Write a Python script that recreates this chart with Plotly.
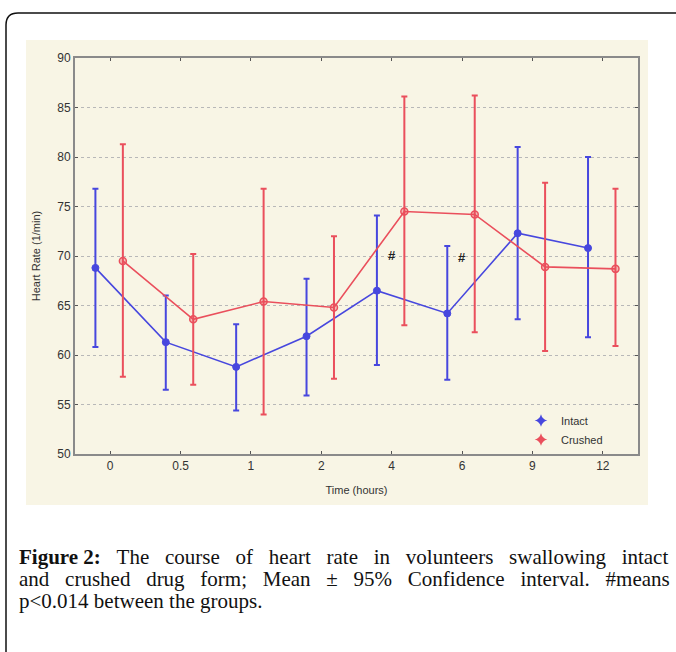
import plotly.graph_objects as go

# ---- data ----
time_labels = ["0", "0.5", "1", "2", "4", "6", "9", "12"]
intact_mean = [68.8, 61.3, 58.8, 61.9, 66.5, 64.2, 72.3, 70.8]
intact_low  = [60.8, 56.5, 54.4, 55.9, 59.0, 57.5, 63.6, 61.8]
intact_high = [76.8, 66.0, 63.1, 67.7, 74.1, 71.0, 81.0, 80.0]
crushed_mean = [69.5, 63.6, 65.4, 64.8, 74.5, 74.2, 68.9, 68.7]
crushed_low  = [57.8, 57.0, 54.0, 57.6, 63.0, 62.3, 60.4, 60.9]
crushed_high = [81.3, 70.2, 76.8, 72.0, 86.1, 86.2, 77.4, 76.8]
sig_labels = ["4", "6"]
sig_y = [70.1, 69.8]

W, H = 676, 652
L, R, T, B = 75, 38, 58, 198
pw, ph = W - L - R, H - T - B

def px(x):
    return (x - L) / pw

def py(y):
    return (H - B - y) / ph

idx = list(range(len(time_labels)))
x_int = [i - 0.21 for i in idx]
x_cru = [i + 0.18 for i in idx]

BLUE = "#4747de"
RED = "#ea4f5c"

fig = go.Figure()
fig.add_trace(go.Scatter(
    x=x_int, y=intact_mean, mode="lines+markers", name="Intact",
    line=dict(color=BLUE, width=1.6),
    marker=dict(color=BLUE, size=7, symbol="circle", line=dict(color=BLUE, width=1)),
    error_y=dict(type="data", symmetric=False,
                 array=[h - m for h, m in zip(intact_high, intact_mean)],
                 arrayminus=[m - l for m, l in zip(intact_mean, intact_low)],
                 color=BLUE, thickness=2, width=3),
    showlegend=False))
fig.add_trace(go.Scatter(
    x=x_cru, y=crushed_mean, mode="lines+markers", name="Crushed",
    line=dict(color=RED, width=1.6),
    marker=dict(color="rgba(234,79,92,0.35)", size=7, symbol="circle", line=dict(color=RED, width=1.5)),
    error_y=dict(type="data", symmetric=False,
                 array=[h - m for h, m in zip(crushed_high, crushed_mean)],
                 arrayminus=[m - l for m, l in zip(crushed_mean, crushed_low)],
                 color=RED, thickness=2, width=3),
    showlegend=False))
# legend-only entries
fig.add_trace(go.Scatter(x=[None], y=[None], mode="markers", name="Intact",
                         marker=dict(color=BLUE, size=9, symbol="star-diamond")))
fig.add_trace(go.Scatter(x=[None], y=[None], mode="markers", name="Crushed",
                         marker=dict(color=RED, size=9, symbol="star-diamond")))

for lab, yv in zip(sig_labels, sig_y):
    fig.add_annotation(x=time_labels.index(lab), y=yv, text="<b>#</b>", showarrow=False,
                       font=dict(family="Liberation Sans, Arial", size=13, color="#222"))

# caption (justified by widening the word gaps)
NB = "\u00a0"
cap_font = dict(family="Liberation Serif, Times New Roman, serif", size=21, color="#111")
gap1 = " " + NB + NB
gap2 = " " + NB + NB
line1 = "<b>Figure" + NB + "2:</b>" + gap1 + gap1.join(
    "The course of heart rate in volunteers swallowing intact".split(" "))
line2 = gap2.join("and crushed drug form; Mean ± 95% Confidence interval. #means".split(" "))
line3 = "p<0.014 between the groups."
for txt, yy in zip([line1, line2, line3], [557, 579, 601]):
    fig.add_annotation(xref="paper", yref="paper", x=px(17), y=py(yy), text=txt,
                       showarrow=False, xanchor="left", yanchor="middle", font=cap_font)

shapes = [
    # beige image background
    dict(type="rect", xref="paper", yref="paper", x0=px(26), x1=px(648), y0=py(505), y1=py(40),
         fillcolor="#f8f5e5", line=dict(width=0), layer="below"),
    # card border (top + left with rounded corner)
    dict(type="path", xref="paper", yref="paper",
         path=f"M {px(700)},{py(13)} L {px(18)},{py(13)} Q {px(6)},{py(13)} {px(6)},{py(25)} L {px(6)},{py(660)}",
         line=dict(color="#111", width=1.5), layer="above"),
]
fig.update_layout(shapes=shapes)

fig.update_layout(
    width=W, height=H, autosize=False,
    margin=dict(l=L, r=R, t=T, b=B, pad=0),
    paper_bgcolor="white", plot_bgcolor="white",
    font=dict(family="Liberation Sans, Arial", size=12, color="#333"),
    legend=dict(x=px(521), y=py(406), xanchor="left", yanchor="top",
                bgcolor="rgba(0,0,0,0)", font=dict(size=11, color="#333"),
                itemwidth=30, tracegroupgap=0),
    xaxis=dict(range=[-0.5, 7.5], tickmode="array", tickvals=idx, ticktext=time_labels,
               showgrid=False, zeroline=False, showline=True, linecolor="#8a8a8a", linewidth=2,
               mirror="ticks", ticks="inside", ticklen=3, tickcolor="#555",
               tickfont=dict(size=12, color="#333"),
               title=dict(text="Time (hours)", standoff=14, font=dict(size=11, color="#333"))),
    yaxis=dict(range=[50, 90], tickmode="linear", tick0=50, dtick=5,
               showgrid=True, gridcolor="#b8b8b8", griddash="dot", gridwidth=1,
               zeroline=False, showline=True, linecolor="#8a8a8a", linewidth=2,
               mirror="ticks", ticks="inside", ticklen=3, tickcolor="#555",
               tickfont=dict(size=12, color="#333"),
               title=dict(text="Heart Rate (1/min)", standoff=14, font=dict(size=11, color="#333"))),
)

fig.write_html("out.html", config={"displayModeBar": False},
               post_script="document.body.style.margin='0px';")
